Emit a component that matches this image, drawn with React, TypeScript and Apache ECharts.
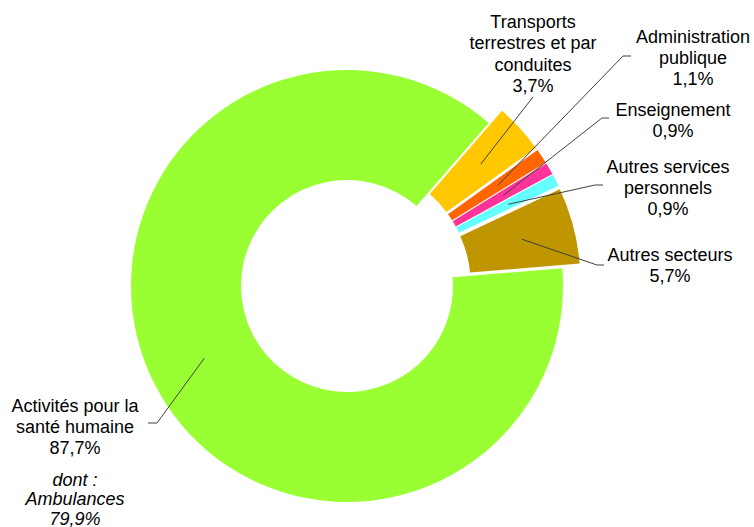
import React, { useEffect, useRef } from "react";
import * as echarts from "echarts";

const categories = [
  "Transports\nterrestres et par\nconduites",
  "Administration\npublique",
  "Enseignement",
  "Autres services\npersonnels",
  "Autres secteurs",
  "Activités pour la\nsanté humaine",
];
const values = [3.7, 1.1, 0.9, 0.9, 5.7, 87.7];
const colors = ["#FFC800", "#FF6600", "#FF3399", "#66FFFF", "#BF9600", "#99FF33"];
const exploded = [true, true, true, true, true, false];
const subLabelLines = ["dont :", "Ambulances"];
const subValue = 79.9;

// layout (pixels)
const CX = 347;
const CY = 286;
const R0 = 106;
const R1 = 216;
const START = 49;
const OFFSET = 18;
const labelPos: [number, number][] = [
  [533, 54],
  [693, 58],
  [673, 120.5],
  [668, 188],
  [670, 265.5],
  [75, 427],
];
const lineEnds: [number, number][][] = [
  [[533, 97]],
  [[623, 56], [631, 56]],
  [[602, 118], [609, 118]],
  [[595, 185], [603, 185]],
  [[597, 265], [604, 265]],
  [[157, 423], [148, 423]],
];

const fmt = (v: number) => v.toFixed(1).replace(".", ",") + "%";
const FONT = '18px "Liberation Sans", Arial, sans-serif';

export default function App() {
  const ref = useRef<HTMLDivElement>(null);
  useEffect(() => {
    if (!ref.current) return;
    const chart = echarts.init(ref.current, null, { renderer: "svg" });
    const total = values.reduce((a, b) => a + b, 0);
    const graphics: any[] = [];
    let acc = START;
    values.forEach((v, i) => {
      const span = (v / total) * 360;
      const mid = acc - span / 2;
      acc -= span;
      const rad = (mid * Math.PI) / 180;
      const d = exploded[i] ? OFFSET : 0;
      const rm = exploded[i] ? 163 : 160;
      const sx = CX + (d + rm) * Math.cos(rad);
      const sy = CY - (d + rm) * Math.sin(rad);
      graphics.push({
        type: "polyline",
        silent: true,
        z: 10,
        shape: { points: [[sx, sy], ...lineEnds[i]] },
        style: { stroke: "#404040", lineWidth: 1, fill: null },
      });
      graphics.push({
        type: "text",
        silent: true,
        x: labelPos[i][0],
        y: labelPos[i][1],
        style: {
          text: categories[i] + "\n" + fmt(v),
          align: "center",
          verticalAlign: "middle",
          font: FONT,
          lineHeight: 21.3,
          fill: "#000",
        },
      });
    });
    graphics.push({
      type: "text",
      silent: true,
      x: 75,
      y: 499,
      style: {
        text: [...subLabelLines, fmt(subValue)].join("\n"),
        align: "center",
        verticalAlign: "middle",
        font: "italic " + FONT,
        lineHeight: 19.5,
        fill: "#000",
      },
    });

    chart.setOption({
      animation: false,
      backgroundColor: "#fff",
      series: [
        {
          type: "pie",
          center: [CX, CY],
          radius: [R0, R1],
          startAngle: START,
          clockwise: true,
          selectedMode: "multiple",
          selectedOffset: OFFSET,
          label: { show: false },
          labelLine: { show: false },
          emphasis: { disabled: true },
          data: values.map((v, i) => ({
            value: v,
            name: categories[i].replace(/\n/g, " "),
            selected: exploded[i],
            itemStyle: { color: colors[i] },
          })),
        },
      ],
      graphic: graphics,
    });
    return () => chart.dispose();
  }, []);
  return (
    <div
      ref={ref}
      style={{ position: "absolute", left: 0, top: 0, width: 754, height: 527 }}
    />
  );
}
